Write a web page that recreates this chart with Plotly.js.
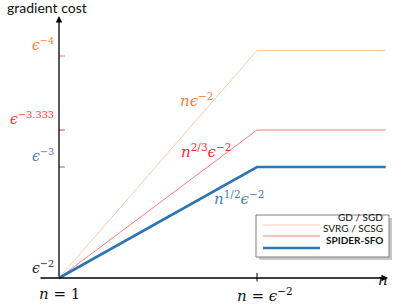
<!DOCTYPE html>
<html><head><meta charset="utf-8">
<script src="https://cdn.plot.ly/plotly-3.0.1.min.js"></script>
<style>body{margin:0;background:#fff}#c{width:406px;height:305px}</style>
</head><body><div id="c"></div>
<script>
// log-scale exponents: x = exponent of n in units of eps^-1, y = exponent of eps^-1
const nExp = [0, 2, 3.3];
const gdCost = [2, 4.05, 4.05];
const svrgCost = [2, 3.333, 3.333];
const spiderCost = [2, 3, 3];
const seriesNames = ['GD / SGD', 'SVRG / SCSG', 'SPIDER-SFO'];
const seriesColors = ['#f8cbad', '#ff7c80', '#2e75b6'];
const seriesWidths = [1, 1, 2.6];
const yTickVals = [2, 3, 3.333, 4];
const yTickText = ['<i>ϵ</i><sup>−2</sup>', '<i>ϵ</i><sup>−3</sup>', '<i>ϵ</i><sup>−3.333</sup>', '<i>ϵ</i><sup>−4</sup>'];
const yTickColors = ['#222', '#4a7ebb', '#ff2b2b', '#f4813a'];
const xTickVals = [0, 2];
const xTickText = ['<i>n</i> = 1', '<i>n</i> = <i>ϵ</i><sup>−2</sup>'];
const curveLabels = ['<i>nϵ</i><sup>−2</sup>', '<i>n</i><sup>2/3</sup><i>ϵ</i><sup>−2</sup>', '<i>n</i><sup>1/2</sup><i>ϵ</i><sup>−2</sup>'];
const curveLabelPos = [[1.39, 3.6], [1.48, 3.14], [1.82, 2.72]];
const curveLabelColors = ['#f4813a', '#ff2b2b', '#4a7ebb'];

const W = 406, H = 305;
const px = x => x / W, py = y => 1 - y / H;
const serif = 'DejaVu Serif, serif';

const costs = [gdCost, svrgCost, spiderCost];
const traces = costs.map((c, i) => ({
  x: nExp, y: c, mode: 'lines', type: 'scatter', name: seriesNames[i],
  line: {color: seriesColors[i], width: seriesWidths[i]}, hoverinfo: 'none'
}));

const shapes = [];
const ann = [];
// axes arrows
ann.push({x: 0, y: 4.36, ax: 0, ay: 2, xref: 'x', yref: 'y', axref: 'x', ayref: 'y',
  showarrow: true, arrowhead: 2, arrowsize: 1, arrowwidth: 1.3, arrowcolor: '#000', text: ''});
ann.push({x: 3.323, y: 2, ax: -0.202, ay: 2, xref: 'x', yref: 'y', axref: 'x', ayref: 'y',
  showarrow: true, arrowhead: 2, arrowsize: 1, arrowwidth: 1.3, arrowcolor: '#000', text: ''});
// y ticks
yTickVals.forEach((v, i) => {
  if (i > 0) shapes.push({type: 'line', xref: 'x', yref: 'y', x0: 0, x1: 0.06, y0: v, y1: v,
    line: {color: yTickColors[i], width: 1}});
  ann.push({x: 0, y: v, xref: 'x', yref: 'y', text: yTickText[i], showarrow: false,
    xanchor: 'right', yanchor: 'bottom', xshift: -3, yshift: i === 0 ? 0 : 1,
    font: {family: serif, size: 14, color: yTickColors[i]}});
});
// x ticks
shapes.push({type: 'line', xref: 'x', yref: 'y', x0: 2, x1: 2, y0: 1.97, y1: 2.045, line: {color: '#000', width: 1}});
xTickVals.forEach((v, i) => {
  ann.push({x: v, y: 2, xref: 'x', yref: 'y', text: xTickText[i], showarrow: false,
    xanchor: 'center', yanchor: 'top', yshift: -5, xshift: i === 1 ? 8 : 0,
    font: {family: serif, size: 15, color: '#111'}});
});
ann.push({x: px(390), y: py(291), xref: 'paper', yref: 'paper', text: '<i>n</i>', showarrow: false,
  font: {family: serif, size: 15, color: '#111'}});
ann.push({x: px(5), y: 1, xref: 'paper', yref: 'paper', text: 'gradient cost', showarrow: false,
  xanchor: 'left', yanchor: 'top', yshift: 3, font: {family: 'Lato, sans-serif', size: 14, color: '#111'}});
// curve labels
curveLabels.forEach((t, i) => {
  ann.push({x: curveLabelPos[i][0], y: curveLabelPos[i][1], xref: 'x', yref: 'y', text: t, showarrow: false,
    font: {family: serif, size: 15, color: curveLabelColors[i]}});
});
// legend (custom)
shapes.push({type: 'rect', xref: 'paper', yref: 'paper', x0: px(259), x1: px(392), y0: py(260), y1: py(218),
  fillcolor: '#c8c8c8', line: {width: 0}, layer: 'above'});
shapes.push({type: 'rect', xref: 'paper', yref: 'paper', x0: px(256), x1: px(389), y0: py(257), y1: py(215),
  fillcolor: '#fff', line: {color: '#7f7f7f', width: 1}, layer: 'above'});
const legY = [225, 236, 248];
seriesNames.forEach((nm, i) => {
  shapes.push({type: 'line', xref: 'paper', yref: 'paper', x0: px(263), x1: px(320), y0: py(legY[i]), y1: py(legY[i]),
    line: {color: seriesColors[i], width: seriesWidths[i]}, layer: 'above'});
  ann.push({x: px(385), y: py(legY[i]), xref: 'paper', yref: 'paper', text: i === 2 ? '<b>' + nm + '</b>' : nm,
    showarrow: false, xanchor: 'right', font: {family: 'Lato, sans-serif', size: 10, color: '#111'}});
});

const layout = {
  width: W, height: H, margin: {l: 0, r: 0, t: 0, b: 0}, showlegend: false,
  paper_bgcolor: '#fff', plot_bgcolor: '#fff',
  xaxis: {range: [-59 / 99, 347 / 99], visible: false, fixedrange: true},
  yaxis: {range: [2 - 27 / 111, 2 + 278 / 111], visible: false, fixedrange: true},
  shapes: shapes, annotations: ann
};
Plotly.newPlot('c', traces, layout, {staticPlot: true});
</script></body></html>
